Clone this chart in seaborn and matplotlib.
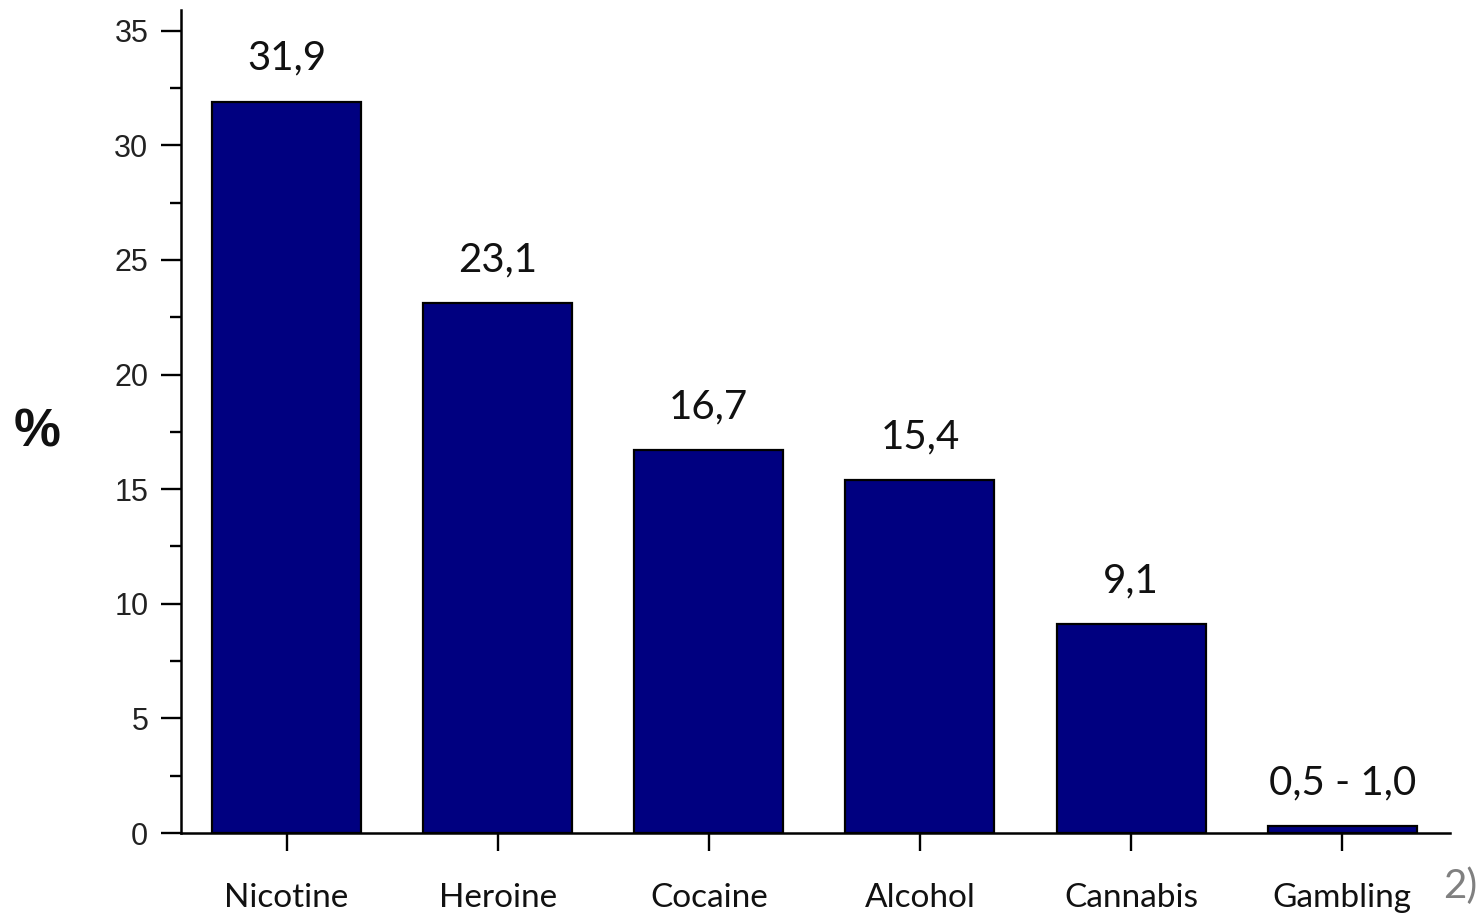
import matplotlib
matplotlib.use("Agg")
import matplotlib.pyplot as plt
import seaborn as sns
import pandas as pd
from matplotlib.ticker import MultipleLocator

categories = ["Nicotine", "Heroine", "Cocaine", "Alcohol", "Cannabis", "Gambling"]
values = [31.9, 23.1, 16.7, 15.4, 9.1, 0.3]
value_labels = ["31,9", "23,1", "16,7", "15,4", "9,1", "0,5 - 1,0"]
y_ticks = [0, 5, 10, 15, 20, 25, 30, 35]

sns.set_style("ticks")
plt.rcParams['font.family'] = ['Liberation Sans', 'DejaVu Sans']

df = pd.DataFrame({"cat": categories, "val": values})

fig = plt.figure(figsize=(14.81, 9.15), dpi=100)
ax = fig.add_axes([0.1222, 0.0896, 0.979 - 0.1222, 0.989 - 0.0896])

sns.barplot(data=df, x="cat", y="val", ax=ax, color="#000080", saturation=1,
            width=0.706, edgecolor="black", linewidth=1.6)

ax.set_xlim(-0.5, 5.51)
ax.set_ylim(0, 35.9)
ax.set_yticks(y_ticks)
ax.yaxis.set_minor_locator(MultipleLocator(2.5))
ax.set_xlabel("")
ax.set_ylabel("")

for s in ["top", "right"]:
    ax.spines[s].set_visible(False)
for s in ["left", "bottom"]:
    ax.spines[s].set_linewidth(1.8)
    ax.spines[s].set_color("black")

ax.tick_params(axis="y", which="major", direction="out", length=14.5, width=1.7,
               labelsize=22, pad=9, colors="black")
ax.tick_params(axis="y", which="minor", direction="out", length=8, width=1.7, colors="black")
ax.tick_params(axis="x", which="major", direction="out", length=13, width=1.7,
               pad=23, colors="black")
for lab in ax.get_yticklabels():
    lab.set_color("#222222")
for lab in ax.get_xticklabels():
    lab.set_fontfamily(["Lato", "DejaVu Sans"])
    lab.set_fontsize(24)
    lab.set_color("#111111")

for i, (v, t) in enumerate(zip(values, value_labels)):
    ax.annotate(t, xy=(i, v), xytext=(0, 18), textcoords="offset points",
                ha="center", va="bottom", fontsize=29, family=["Lato", "DejaVu Sans"],
                color="#111111")

fig.text(0.025, 0.527, "%", fontsize=38, fontweight="bold", ha="center", va="center",
         color="#111111")
fig.text(0.986, 0.031, "2)", fontsize=29, ha="center", va="center", color="#808080",
         family=["Lato", "DejaVu Sans"])

fig.savefig("out.png", dpi=100)
